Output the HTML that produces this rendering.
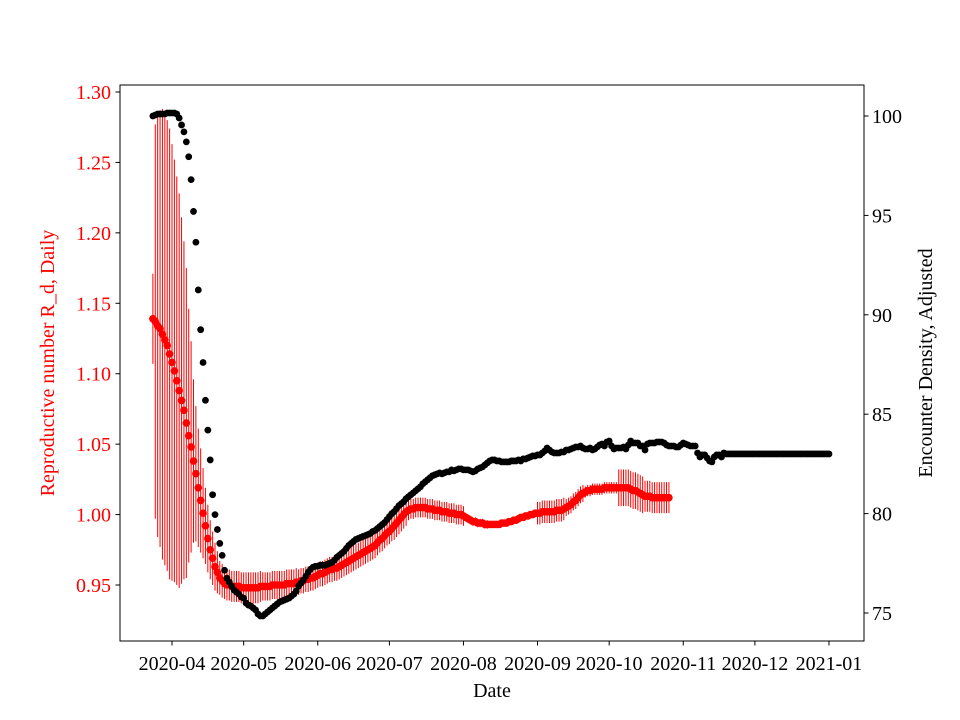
<!DOCTYPE html>
<html><head><meta charset="utf-8"><style>
html,body{margin:0;padding:0;background:#fff}
svg{display:block;font-family:"Liberation Serif","DejaVu Serif",serif}
</style></head><body>
<svg id="chart" width="960" height="720" viewBox="0 0 960 720" xmlns="http://www.w3.org/2000/svg">
<rect x="0" y="0" width="960" height="720" fill="#fff"/>
<g id="red-layer"></g>
<g id="black-layer"></g>
<rect x="120" y="85" width="744" height="556" fill="none" stroke="#000" stroke-width="1"/>
<g id="axes"></g>
<text x="492" y="697" font-size="20" text-anchor="middle">Date</text>
<text transform="translate(54,363) rotate(-90)" font-size="20" fill="#ff0000" text-anchor="middle">Reproductive number R_d, Daily</text>
<text transform="translate(932,363) rotate(-90)" font-size="20" text-anchor="middle">Encounter Density, Adjusted</text>
</svg>
<script>
const startDate = "2020-03-24";
const rValues = [1.139,1.137,1.134,1.132,1.128,1.124,1.120,1.114,1.108,1.102,1.095,1.088,1.081,1.074,1.065,1.056,1.048,1.038,1.029,1.019,1.010,1.001,0.992,0.983,0.975,0.969,0.963,0.959,0.955,0.953,0.951,0.950,0.950,0.949,0.949,0.949,0.949,0.948,0.948,0.948,0.948,
0.948,0.948,0.948,0.948,0.949,0.949,0.949,0.949,0.949,0.950,0.950,0.950,0.950,0.950,0.950,0.951,0.951,0.951,0.951,0.952,0.952,0.953,0.953,0.954,
0.954,0.955,0.955,0.956,0.957,0.958,0.958,0.959,0.960,0.961,0.961,0.962,0.962,0.963,0.964,0.965,0.966,0.967,0.968,0.969,0.970,0.971,0.972,0.973,
0.974,0.975,0.976,0.977,0.978,0.980,0.982,0.983,0.985,0.987,0.988,0.990,0.992,0.994,0.996,0.998,1.000,1.002,1.003,1.004,1.004,1.005,1.005,1.005,
1.005,1.005,1.004,1.004,1.004,1.003,1.003,1.003,1.002,1.002,1.002,1.001,1.001,1.001,1.000,1.000,1.000,0.999,0.998,0.997,0.996,0.995,0.995,0.994,
0.994,0.994,0.993,0.993,0.993,0.993,0.993,0.993,0.993,0.994,0.994,0.994,0.995,0.995,0.996,0.996,0.997,0.998,0.998,0.999,0.999,1.000,1.000,1.001,
1.001,1.001,1.002,1.002,1.002,1.002,1.002,1.002,1.003,1.003,1.003,1.004,1.005,1.006,1.007,1.009,1.010,1.012,1.014,1.015,1.016,1.017,1.017,1.018,
1.018,1.018,1.018,1.018,1.019,1.019,1.019,1.019,1.019,1.019,1.019,1.019,1.019,1.019,1.019,1.018,1.017,1.017,1.016,1.015,1.014,1.013,1.013,1.013,
1.012,1.012,1.012,1.012,1.012,1.012,1.012,1.012];
const rErrors = [0.032,0.14,0.15,0.155,0.16,0.16,0.16,0.16,0.155,0.15,0.145,0.14,0.13,0.12,0.11,0.09,0.075,0.058,0.048,0.042,0.037,0.032,0.027,0.024,0.021,0.019,0.017,0.015,
0.012,0.012,0.011,0.011,0.011,0.011,0.011,0.011,0.011,0.011,0.011,0.011,0.011,0.011,0.011,0.011,0.011,0.011,
0.010,0.010,0.010,0.010,0.010,0.010,0.010,0.010,0.010,0.010,0.010,0.010,0.010,0.010,0.010,
0.009,0.009,0.009,0.009,0.009,0.009,0.009,0.009,0.009,0.009,0.009,0.009,0.009,0.009,0.009,0.009,0.009,0.009,0.009,0.009,
0.009,0.009,0.009,0.009,0.009,0.009,0.009,0.009,0.009,0.009,0.009,0.009,0.009,0.009,0.009,0.009,0.009,0.009,0.009,0.009,
0.010,0.010,0.010,0.010,0.010,0.010,
0.007,0.007,0.007,0.007,0.007,0.007,0.007,0.007,0.007,0.007,0.007,0.007,0.007,0.007,0.007,0.007,0.007,0.007,0.007,0.007,0.007,0.007,0.007,0.007,
0.003,0.003,0.003,0.003,0.003,0.003,0.003,0.003,0.003,0.003,
0.001,0.001,0.001,0.001,0.001,0.001,0.001,0.001,0.001,0.001,0.001,0.001,0.001,0.001,0.001,0.001,0.001,0.001,0.001,0.001,
0.008,0.008,0.008,0.008,0.008,0.008,0.008,0.008,0.008,0.008,0.008,0.008,
0.006,0.006,0.006,0.006,0.006,0.006,0.006,0.006,
0.004,0.004,0.004,0.004,0.004,0.004,0.004,0.004,0.004,0.004,0.004,0.004,0.004,0.004,
0.013,0.013,0.013,0.013,0.013,0.013,0.013,0.013,0.013,0.013,0.013,
0.011,0.011,0.011,0.011,0.011,0.011,0.011,0.011,0.011,0.011,0.011];
const densityValues = [100.0,100.05,100.1,100.1,100.1,100.1,100.15,100.15,100.15,100.15,100.1,99.9,99.55,99.2,98.7,97.95,96.8,95.2,93.65,91.25,89.25,87.6,85.7,84.2,82.7,80.95,79.95,79.2,78.5,77.9,
77.15,76.75,76.55,76.35,76.15,76.05,75.95,75.8,75.75,75.5,75.4,75.35,75.25,75.15,74.95,74.85,74.85,74.95,75.05,75.15,75.25,75.35,75.45,75.55,75.6,75.65,75.7,75.75,75.85,75.95,
76.1,76.35,76.5,76.65,76.85,77.05,77.2,77.3,77.35,77.35,77.4,77.4,77.4,77.45,77.5,77.55,77.65,77.8,77.9,78.0,78.1,78.25,78.4,78.5,78.6,78.7,78.75,78.8,78.85,78.9,
78.95,79.0,79.1,79.15,79.25,79.35,79.45,79.55,79.7,79.85,80.0,80.1,80.25,80.4,80.5,80.6,80.75,80.85,80.95,81.05,81.15,81.25,81.35,81.5,81.6,81.7,81.8,81.9,81.95,82.0,
82.05,82.0,82.05,82.1,82.1,82.2,82.15,82.2,82.25,82.25,82.2,82.2,82.2,82.15,82.1,82.15,82.25,82.3,82.35,82.45,82.55,82.65,82.7,82.7,82.65,82.65,82.6,82.6,82.6,82.6,
82.65,82.65,82.65,82.7,82.65,82.75,82.75,82.8,82.85,82.9,82.9,82.95,82.95,83.05,83.15,83.3,83.2,83.1,83.05,83.05,83.05,83.1,83.1,83.2,83.2,83.25,83.3,83.35,83.35,83.4,
83.3,83.25,83.25,83.3,83.2,83.25,83.35,83.45,83.5,83.4,83.6,83.65,83.4,83.25,83.3,83.3,83.3,83.35,83.25,83.45,83.65,83.55,83.55,83.55,83.4,83.4,83.2,83.5,83.55,83.55,
83.55,83.6,83.6,83.6,83.55,83.45,83.4,83.4,83.4,83.35,83.35,83.45,83.55,83.5,83.45,83.4,83.4,83.4,83.05,82.85,82.95,82.95,82.8,82.65,82.6,82.85,82.95,82.95,82.85,83.05,
83.0,83.0,83.0,83.0,83.0,83.0,83.0,83.0,83.0,83.0,83.0,83.0,83.0,83.0,83.0,83.0,83.0,83.0,83.0,83.0,83.0,83.0,83.0,83.0,83.0,83.0,83.0,83.0,83.0,83.0,
83.0,83.0,83.0,83.0,83.0,83.0,83.0,83.0,83.0,83.0,83.0,83.0,83.0,83.0];
const xTickLabels = ["2020-04","2020-05","2020-06","2020-07","2020-08","2020-09","2020-10","2020-11","2020-12","2021-01"];
const xTickDates = ["2020-04-01","2020-05-01","2020-06-01","2020-07-01","2020-08-01","2020-09-01","2020-10-01","2020-11-01","2020-12-01","2021-01-01"];
const leftTicks = [0.95,1.00,1.05,1.10,1.15,1.20,1.25,1.30];
const leftTickLabels = ["0.95","1.00","1.05","1.10","1.15","1.20","1.25","1.30"];
const rightTicks = [75,80,85,90,95,100];
const rightTickLabels = ["75","80","85","90","95","100"];

const NS = "http://www.w3.org/2000/svg";
const DAY = 86400000;
const t0 = Date.parse("2020-04-01");
function xScale(ms){ return 172 + 2.389 * (ms - t0) / DAY; }
function dayX(i){ return xScale(Date.parse(startDate) + i * DAY); }
function yLeft(v){ return 585 - (v - 0.95) * 1408.6; }
function yRight(v){ return 613 - (v - 75) * 19.88; }
function mk(tag, attrs, parent){ const e = document.createElementNS(NS, tag); for (const k in attrs) e.setAttribute(k, attrs[k]); parent.appendChild(e); return e; }

const red = document.getElementById("red-layer");
rValues.forEach((v, i) => {
  const x = dayX(i), e = rErrors[i] || 0;
  const l = mk("line", {x1:x, x2:x, y1:yLeft(v+e), y2:yLeft(v-e), stroke:"#ff0000", "stroke-width":1}, red);
  
  
});
rValues.forEach((v, i) => {
  const c = mk("circle", {cx:dayX(i), cy:yLeft(v), r:3.8, fill:"#ff0000"}, red);
  
  
});
const blk = document.getElementById("black-layer");
densityValues.forEach((v, i) => {
  const c = mk("circle", {cx:dayX(i), cy:yRight(v), r:3.4, fill:"#000"}, blk);
  
  
});

const ax = document.getElementById("axes");
xTickDates.forEach((d, i) => {
  const x = xScale(Date.parse(d));
  const t = mk("line", {x1:x, x2:x, y1:641, y2:645.5, stroke:"#000"}, ax);
  
  
  const tx = mk("text", {x:x, y:670, "font-size":20, "text-anchor":"middle"}, ax);
  tx.textContent = xTickLabels[i];
  
  
});
leftTicks.forEach((v, i) => {
  const y = yLeft(v);
  const t = mk("line", {x1:115.5, x2:120, y1:y, y2:y, stroke:"#000"}, ax);
  
  
  const tx = mk("text", {x:111, y:y+7, "font-size":20, "text-anchor":"end", fill:"#ff0000"}, ax);
  tx.textContent = leftTickLabels[i];
  
  
});
rightTicks.forEach((v, i) => {
  const y = yRight(v);
  const t = mk("line", {x1:864, x2:868.5, y1:y, y2:y, stroke:"#000"}, ax);
  
  
  const tx = mk("text", {x:872, y:y+7, "font-size":20, "text-anchor":"start"}, ax);
  tx.textContent = rightTickLabels[i];
  
  
});
</script>
</body></html>
